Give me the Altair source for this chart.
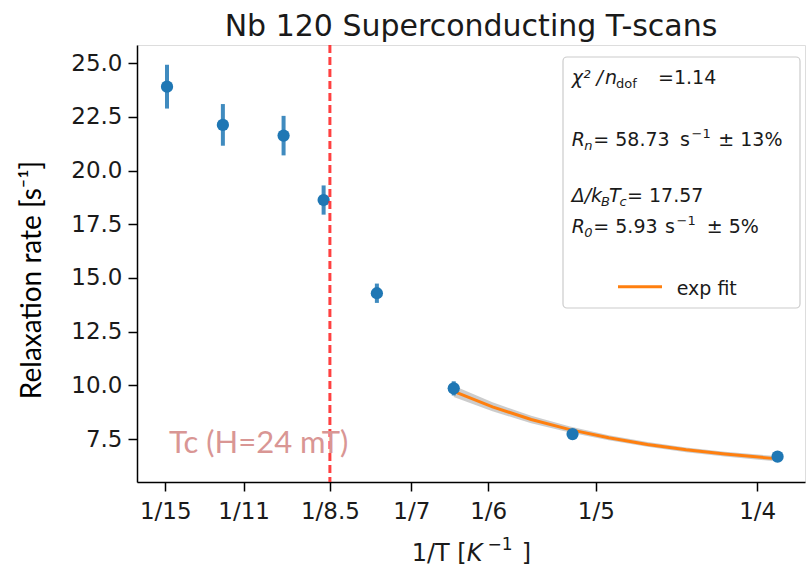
import altair as alt
import pandas as pd

# ---------------- data ----------------
inv_T = [0.0672, 0.0845, 0.1033, 0.1157, 0.1322, 0.1560, 0.1928, 0.2563]
rate = [23.91, 22.13, 21.63, 18.63, 14.29, 9.86, 7.73, 6.68]
rate_err = [1.02, 0.97, 0.92, 0.68, 0.45, 0.33, 0.2, 0.2]

fit_x = [0.156, 0.168, 0.180, 0.192, 0.204, 0.216, 0.228, 0.240, 0.2548]
fit_y = [9.72, 9.00, 8.41, 7.94, 7.56, 7.25, 7.00, 6.80, 6.60]
fit_hw = [0.26, 0.21, 0.17, 0.14, 0.12, 0.11, 0.11, 0.11, 0.12]

tick_denoms = [15, 11, 8.5, 7, 6, 5, 4]
tick_labels = ["1/15", "1/11", "1/8.5", "1/7", "1/6", "1/5", "1/4"]
y_ticks = [7.5, 10.0, 12.5, 15.0, 17.5, 20.0, 22.5, 25.0]
tc_K = 8.5

X_DOMAIN = [0.0579, 0.2648]
Y_DOMAIN = [5.5, 25.85]
W, H = 668, 437

BLUE = "#1f77b4"
ORANGE = "#ff7f0e"
TXT = "#1a1a1a"

pts = pd.DataFrame({
    "x": inv_T, "y": rate,
    "lo": [r - e for r, e in zip(rate, rate_err)],
    "hi": [r + e for r, e in zip(rate, rate_err)],
})
fit = pd.DataFrame({
    "x": fit_x, "y": fit_y,
    "lo": [y - h for y, h in zip(fit_y, fit_hw)],
    "hi": [y + h for y, h in zip(fit_y, fit_hw)],
})
one = pd.DataFrame({"a": [0]})

tick_vals = [1.0 / d for d in tick_denoms]
label_expr = ""
for v, l in zip(tick_vals, tick_labels):
    label_expr += f"abs(datum.value - {v}) < 1e-6 ? '{l}' : "
label_expr += "''"

xscale = alt.Scale(domain=X_DOMAIN, nice=False, zero=False)
yscale = alt.Scale(domain=Y_DOMAIN, nice=False, zero=False)

xaxis = alt.Axis(
    values=tick_vals, labelExpr=label_expr, title=None, grid=False,
    labelFont="DejaVu Sans", labelFontSize=23, labelColor=TXT,
    tickSize=9, tickWidth=1.5, tickColor="black", domainColor="black", domainWidth=1.5,
    labelPadding=9, labelFlush=False,
)
yaxis = alt.Axis(
    values=y_ticks, format=".1f", title=None, grid=False,
    labelFont="DejaVu Sans", labelFontSize=23, labelColor=TXT,
    tickSize=9, tickWidth=1.5, tickColor="black", domainColor="black", domainWidth=1.5,
    labelPadding=6, labelFlush=False,
)

band = alt.Chart(fit).mark_area(color="#9a9a9a", opacity=0.5).encode(
    x=alt.X("x:Q", scale=xscale, axis=xaxis),
    y=alt.Y("lo:Q", scale=yscale, axis=yaxis),
    y2="hi:Q",
)
fit_line = alt.Chart(fit).mark_line(color=ORANGE, strokeWidth=3).encode(
    x="x:Q", y="y:Q"
)
errbars = alt.Chart(pts).mark_rule(color=BLUE, strokeWidth=4, opacity=0.85).encode(
    x="x:Q", y="lo:Q", y2="hi:Q"
)
points = alt.Chart(pts).mark_circle(size=150, color=BLUE, opacity=1).encode(
    x="x:Q", y="y:Q"
)
vline = alt.Chart(one).mark_rule(color="#ff2020", strokeDash=[8, 4], strokeWidth=3, opacity=0.85).encode(
    x=alt.datum(1.0 / tc_K)
)

tc_text = alt.Chart(one).mark_text(
    text="Tc (H=24 mT)", font="Lato", fontSize=31, color="#d99694",
    align="left", baseline="alphabetic",
).encode(x=alt.value(32), y=alt.value(408))

ylab = alt.Chart(one).mark_text(
    text="Relaxation rate [s⁻¹]", font="Lato", fontSize=28, color="black",
    align="center", baseline="middle", angle=270,
).encode(x=alt.value(-104), y=alt.value(235))

legend_box = alt.Chart(one).mark_rect(
    fill="white", stroke="#cccccc", strokeWidth=1.2, cornerRadius=4,
).encode(x=alt.value(426), x2=alt.value(663), y=alt.value(12), y2=alt.value(263))

legend_line = alt.Chart(one).mark_rule(color=ORANGE, strokeWidth=3).encode(
    x=alt.value(481), x2=alt.value(525), y=alt.value(241.7)
)

# text segments (legend entries and x-axis title): (text, x, y, size, style)
segs = [
    ("χ²", 434.7, 39.3, 19, "italic"),
    ("/", 459.5, 39.3, 19, "italic"),
    ("n", 468.0, 39.3, 19, "italic"),
    ("dof", 479.0, 43.0, 13, "normal"),
    ("=1.14", 521.0, 39.3, 19, "normal"),

    ("R", 434.7, 101.0, 19, "italic"),
    ("n", 447.3, 105.0, 13, "italic"),
    ("= 58.73", 456.3, 101.0, 19, "normal"),
    ("s", 543.0, 101.0, 19, "normal"),
    ("−1", 554.5, 93.0, 13, "normal"),
    ("± 13%", 581.3, 101.0, 19, "normal"),

    ("Δ/k", 434.7, 156.7, 19, "italic"),
    ("B", 464.0, 160.7, 13, "italic"),
    ("T", 472.0, 156.7, 19, "italic"),
    ("c", 482.5, 160.7, 13, "italic"),
    ("= 17.57", 490.0, 156.7, 19, "normal"),

    ("R", 434.7, 188.3, 19, "italic"),
    ("0", 447.3, 192.3, 13, "italic"),
    ("= 5.93", 456.3, 188.3, 19, "normal"),
    ("s", 528.0, 188.3, 19, "normal"),
    ("−1", 539.5, 180.3, 13, "normal"),
    ("± 5%", 569.7, 188.3, 19, "normal"),

    ("exp fit", 539.7, 250.0, 19, "normal"),

    ("1/T [", 274.7, 516.3, 24, "normal"),
    ("K", 329.7, 516.3, 24, "italic"),
    ("−1", 350.5, 505.0, 17, "normal"),
    ("]", 384.7, 516.3, 24, "normal"),
]
seg_layers = []
for t, px, py, sz, st in segs:
    seg_layers.append(
        alt.Chart(one).mark_text(
            text=t, font="DejaVu Sans", fontSize=sz, fontStyle=st, color=TXT,
            align="left", baseline="alphabetic",
        ).encode(x=alt.value(px), y=alt.value(py))
    )

chart = alt.layer(
    band, fit_line, errbars, points, vline, tc_text, ylab,
    legend_box, legend_line, *seg_layers,
).properties(
    width=W, height=H,
    title=alt.TitleParams(
        "Nb 120 Superconducting T-scans", font="DejaVu Sans", fontSize=30,
        fontWeight="normal", color=TXT, anchor="middle", offset=2,
    ),
    autosize=alt.AutoSizeParams(type="none"),
    padding={"left": 137, "top": 45, "right": 1, "bottom": 86},
).configure_view(stroke="black", strokeWidth=1.5).configure(background="white")

chart.save("out.html", embed_options={"renderer": "svg", "actions": False})
